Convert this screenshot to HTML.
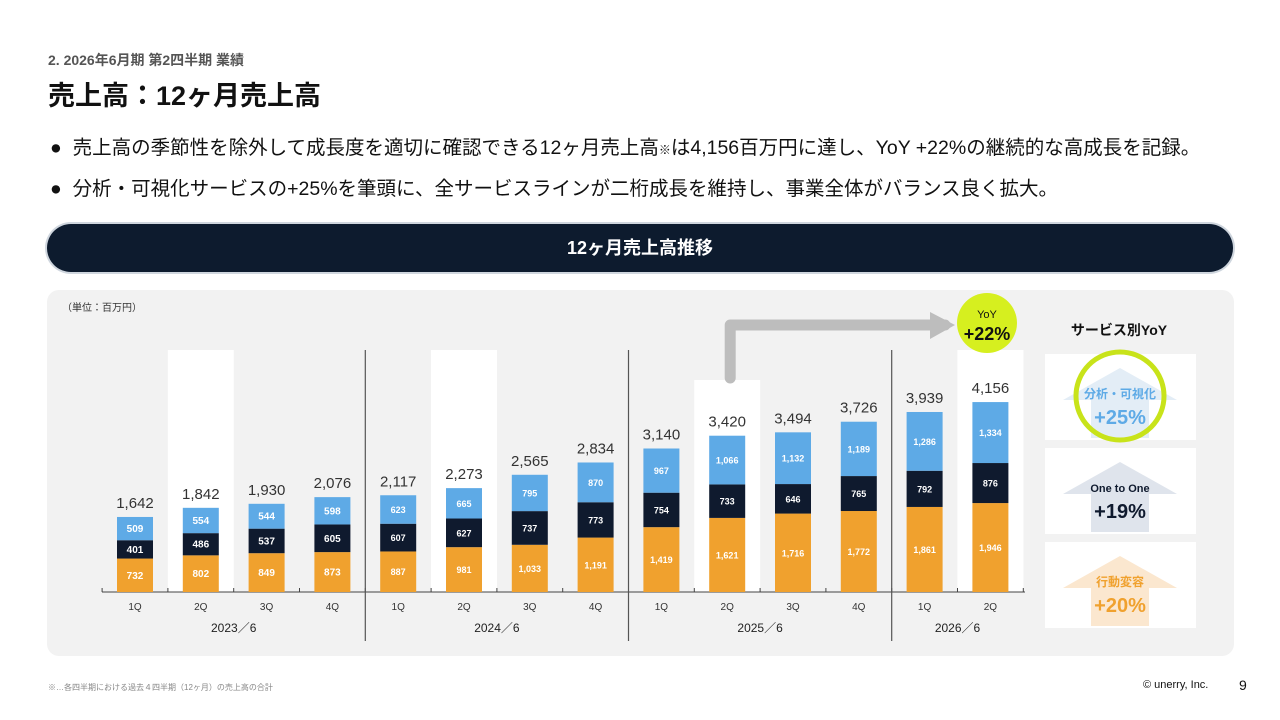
<!DOCTYPE html>
<html><head><meta charset="utf-8"><style>
body{margin:0;width:1280px;height:720px;background:#fff;font-family:"Liberation Sans","Noto Sans CJK JP",sans-serif;position:relative;overflow:hidden;color:#111}
.abs{position:absolute}
</style></head><body>
<div class="abs" style="left:48px;top:50px;font-size:14px;font-weight:bold;color:#555">2. 2026年6月期 第2四半期 業績</div>
<div class="abs" style="left:48px;top:74px;font-size:27px;font-weight:bold">売上高：12ヶ月売上高</div>
<div class="abs" style="left:50px;top:131px;font-size:19.5px;white-space:nowrap">●&nbsp; 売上高の季節性を除外して成長度を適切に確認できる12ヶ月売上高<span style="font-size:12px">※</span>は4,156百万円に達し、YoY +22%の継続的な高成長を記録。</div>
<div class="abs" style="left:50px;top:172px;font-size:19.5px;white-space:nowrap">●&nbsp; 分析・可視化サービスの+25%を筆頭に、全サービスラインが二桁成長を維持し、事業全体がバランス良く拡大。</div>
<div class="abs" style="left:47px;top:224px;width:1186px;height:48px;border-radius:24px;background:#0d1b2e;box-shadow:0 0 0 2px #cfd6de;color:#fff;font-size:18px;font-weight:bold;text-align:center;line-height:48px">12ヶ月売上高推移</div>
<div class="abs" style="left:47px;top:290px;width:1187px;height:366px;border-radius:12px;background:#f2f2f2"></div>
<svg class="abs" style="left:0;top:0" width="1280" height="720" id="chart"></svg>
<div class="abs" style="left:48px;top:682px;font-size:8px;color:#888">※…各四半期における過去４四半期（12ヶ月）の売上高の合計</div>
<div class="abs" style="left:1143px;top:679px;font-size:11px">© unerry, Inc.</div>
<div class="abs" style="left:1239px;top:677px;font-size:14px">9</div>
<script>
const quarters=["1Q","2Q","3Q","4Q","1Q","2Q","3Q","4Q","1Q","2Q","3Q","4Q","1Q","2Q"];
const years=["2023／6","2024／6","2025／6","2026／6"];
const behavior=[732,802,849,873,887,981,1033,1191,1419,1621,1716,1772,1861,1946];
const oneToOne=[401,486,537,605,607,627,737,773,754,733,646,765,792,876];
const analytics=[509,554,544,598,623,665,795,870,967,1066,1132,1189,1286,1334];
const totals=[1642,1842,1930,2076,2117,2273,2565,2834,3140,3420,3494,3726,3939,4156];
const svcNames=["分析・可視化","One to One","行動変容"];
const svcYoY=["+25%","+19%","+20%"];
const NS="http://www.w3.org/2000/svg";
const svg=document.getElementById('chart');
const base=592,k=0.0457,x0=135,step=65.8,bw=36;
const X=i=>x0+i*step, Y=v=>base-v*k;
function el(t,a,txt){const e=document.createElementNS(NS,t);for(const n in a)e.setAttribute(n,a[n]);if(txt!=null)e.textContent=txt;svg.appendChild(e);return e;}
const fmt=v=>v.toLocaleString('en-US');
let e=el('text',{x:62,y:311,'font-size':10,fill:'#333'},'（単位：百万円）');

[1,5,9,13].forEach(i=>{const top=i==9?380:350;const r=el('rect',{x:X(i)-33,y:top,width:66,height:base-top,fill:'#fff'});
});
e=el('path',{d:`M${X(9)+3} 378 V325 H945`,fill:'none',stroke:'#bdbdbd','stroke-width':11,'stroke-linejoin':'round','stroke-linecap':'round'});

el('polygon',{points:'930,312 955,325 930,339',fill:'#bdbdbd'});
e=el('line',{x1:102,y1:base,x2:1025,y2:base,stroke:'#444','stroke-width':1});

for(let i=0;i<=14;i++){el('line',{x1:X(i)-step/2,y1:base,x2:X(i)-step/2,y2:base-4,stroke:'#444'});}
[4,8,12].forEach(i=>{const l=el('line',{x1:X(i)-step/2,y1:350,x2:X(i)-step/2,y2:641,stroke:'#555','stroke-width':1.2});
});
quarters.forEach((q,i)=>{const t=el('text',{x:X(i),y:610,'font-size':10,'text-anchor':'middle',fill:'#333'},q);
});
years.forEach((y,j)=>{const t=el('text',{x:X(j*4)+(j<3?1.5:0.5)*step,y:632,'font-size':12,'text-anchor':'middle',fill:'#222'},y);
});
const series=[[behavior,'#f0a12e','behavior-bar'],[oneToOne,'#0f1a2e','one-to-one-bar'],[analytics,'#5eaae6','analytics-bar']];
quarters.forEach((q,i)=>{let acc=0;
series.forEach(([arr,c,nm])=>{const v=arr[i];const r=el('rect',{x:X(i)-bw/2,y:Y(acc+v),width:bw,height:v*k,fill:c});

const t=el('text',{x:X(i),y:Y(acc+v/2)+3.5,'font-size':i>=4?9:10,'text-anchor':'middle',fill:'#fff','font-weight':'bold'},fmt(v));
acc+=v;});
const t=el('text',{x:X(i),y:Y(totals[i])-9,'font-size':15,'text-anchor':'middle',fill:'#333'},fmt(totals[i]));
});
e=el('circle',{cx:987,cy:323,r:30,fill:'#d6ef1f'});
el('text',{x:987,y:318,'font-size':11,'text-anchor':'middle',fill:'#111'},'YoY');
el('text',{x:987,y:340,'font-size':18,'font-weight':'bold','text-anchor':'middle',fill:'#111'},'+22%');
e=el('text',{x:1119,y:335,'font-size':14,'font-weight':'bold','text-anchor':'middle',fill:'#111'},'サービス別YoY');

const cols=[['#e3edf6','#5eaae6'],['#dfe4ec','#0f1a2e'],['#fbe7cf','#f0a12e']];
svcNames.forEach((n,j)=>{const top=354+j*94;
const r=el('rect',{x:1045,y:top,width:151,height:86,fill:'#fff'});
el('polygon',{points:`1063,${top+46} 1120,${top+14} 1177,${top+46} 1149,${top+46} 1149,${top+84} 1091,${top+84} 1091,${top+46}`,fill:cols[j][0]});
const a=el('text',{x:1120,y:top+44,'font-size':j==1?11:12,'font-weight':'bold','text-anchor':'middle',fill:cols[j][1]},n);

const b=el('text',{x:1120,y:top+70,'font-size':20,'font-weight':'bold','text-anchor':'middle',fill:cols[j][1]},svcYoY[j]);
});
e=el('circle',{cx:1120,cy:396,r:44,fill:'none',stroke:'#c8e31a','stroke-width':5});

</script>
</body></html>
